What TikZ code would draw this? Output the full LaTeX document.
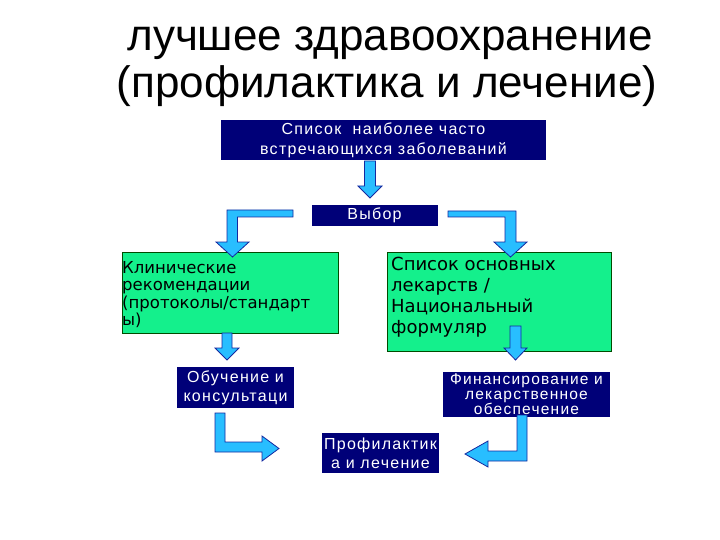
\documentclass[tikz,border=0pt]{standalone}
\usepackage{fontspec}
\setmainfont{Liberation Sans}
\newfontfamily\comicish{DejaVu Sans}
\newfontfamily\boxfont[LetterSpace=8]{Liberation Sans}
\definecolor{navy}{RGB}{0,0,120}
\definecolor{boxgreen}{RGB}{20,240,140}
\definecolor{arrowfill}{RGB}{40,190,255}
\definecolor{arrowline}{RGB}{20,40,160}
\tikzset{
  navybox/.style={fill=navy, text=white, inner sep=0pt, align=center, font=\boxfont\fontsize{16}{19}\selectfont},
  greenbox/.style={fill=boxgreen, draw=black!70!green, line width=0.8pt, inner sep=0pt},
  blockarrow/.style={fill=arrowfill, draw=arrowline, line width=0.8pt, line join=miter},
  titletext/.style={inner sep=0pt, anchor=base, font=\fontsize{44}{48}\selectfont}
}
\begin{document}
\begin{tikzpicture}[x=1pt,y=-1pt]
\useasboundingbox (0,0) rectangle (720,540);
% title
\node[titletext] (t1) at (390,51) {лучшее здравоохранение};
\node[titletext] (t2) at (387,98) {(профилактика и лечение)};
% boxes
\node[navybox, minimum width=325pt, minimum height=40pt, font=\boxfont\fontsize{16}{20}\selectfont] (top) at (383.5,140)
  {Список\ \ наиболее часто\\встречающихся заболеваний};
\node[navybox, minimum width=126pt, minimum height=21pt] (vybor) at (374.5,215.5) {Выбор};
\node[greenbox, minimum width=216pt, minimum height=81pt] (lg) at (230,292.5) {};
\node[inner sep=0pt, anchor=north west, align=left, font=\comicish\fontsize{16.5}{17.5}\selectfont] (lgt) at (122,261)
  {Клинические\\рекомендации\\(протоколы/стандарт\\ы)};
\node[greenbox, minimum width=224pt, minimum height=99pt] (rg) at (499,301.5) {};
\node[inner sep=0pt, anchor=north west, align=left, font=\comicish\fontsize{18}{21}\selectfont] (rgt) at (391,257)
  {Список основных\\лекарств /\\Национальный\\формуляр};
\node[navybox, minimum width=117pt, minimum height=41pt] (learn) at (235.5,387.5) {Обучение и\\консультаци};
\node[navybox, minimum width=167pt, minimum height=45pt, font=\boxfont\fontsize{15.5}{15}\selectfont] (fin) at (526.5,394.5)
  {Финансирование и\\лекарственное\\обеспечение};
\node[navybox, minimum width=117pt, minimum height=40pt, font=\boxfont\fontsize{16}{19}\selectfont] (prof) at (380.5,453)
  {Профилактик\\а и лечение};
% arrows
\draw[blockarrow] (364.5,161) -- (364.5,186) -- (358,186) -- (370,198) -- (382,186) -- (375.5,186) -- (375.5,161) -- cycle;
\draw[blockarrow] (293,210) -- (227,210) -- (227,242) -- (216,242) -- (232.5,257) -- (249,242) -- (237.5,242) -- (237.5,217) -- (293,217) -- cycle;
\draw[blockarrow] (448,211) -- (516,211) -- (516,242) -- (527,242) -- (510.5,257) -- (494,242) -- (505,242) -- (505,217) -- (448,217) -- cycle;
\draw[blockarrow] (222,333) -- (222,348) -- (215,348) -- (227,360) -- (239,348) -- (232,348) -- (232,333) -- cycle;
\draw[blockarrow] (510,326) -- (510,348) -- (504,348) -- (515.5,360) -- (527,348) -- (521,348) -- (521,326) -- cycle;
\draw[blockarrow] (215,413) -- (215,452) -- (262,452) -- (262,461) -- (279,448.5) -- (262,436) -- (262,442) -- (225,442) -- (225,413) -- cycle;
\draw[blockarrow] (527,415) -- (527,461) -- (488,461) -- (488,467) -- (465,454) -- (488,441) -- (488,451) -- (517,451) -- (517,415) -- cycle;
\end{tikzpicture}
\end{document}
